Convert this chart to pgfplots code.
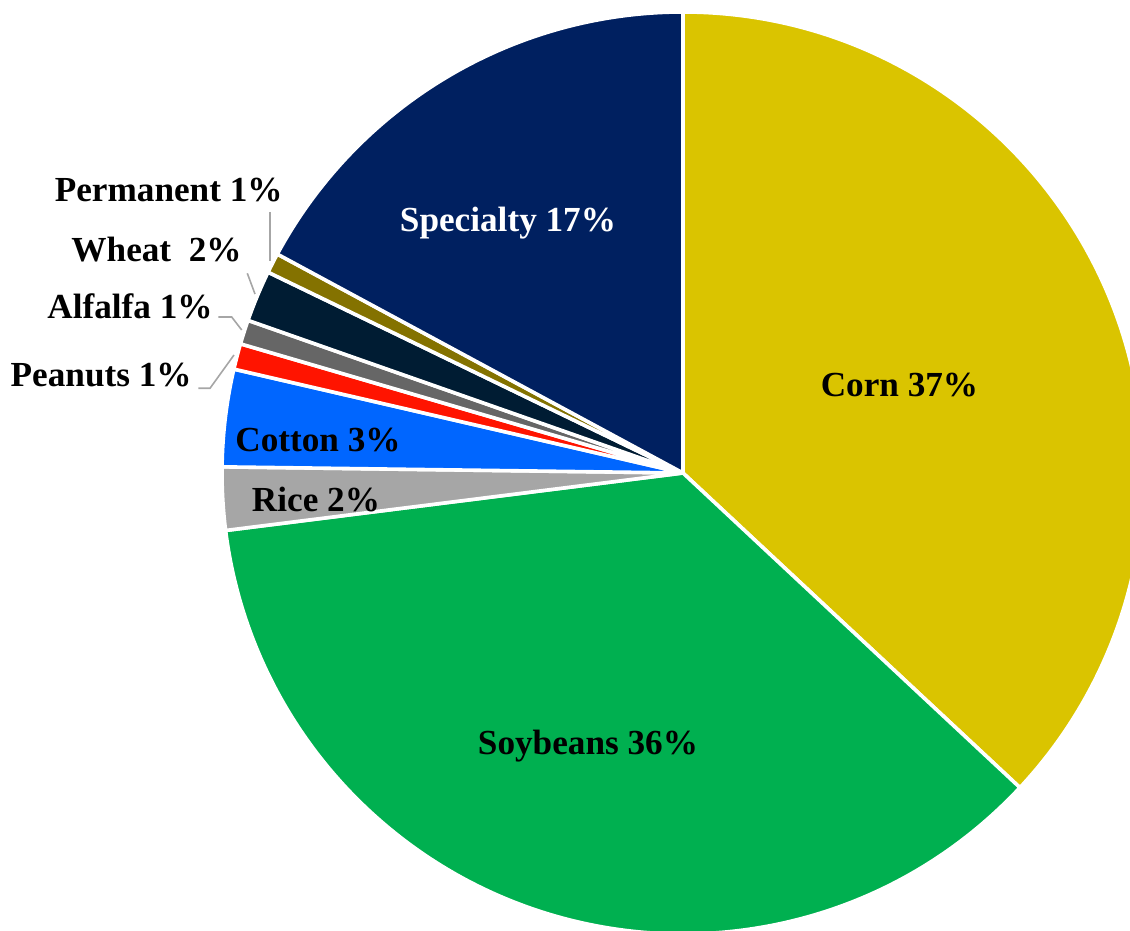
\documentclass[border=0pt]{standalone}
\usepackage{pgfplots}
\usepackage{pgfplotstable}
\pgfplotsset{compat=1.18}
\usepackage{fontspec}
\setmainfont{Liberation Serif}
\definecolor{corn}{HTML}{DAC400}
\definecolor{soy}{HTML}{00B050}
\definecolor{rice}{HTML}{A6A6A6}
\definecolor{cotton}{HTML}{0066FF}
\definecolor{peanut}{HTML}{FF1400}
\definecolor{alfalfa}{HTML}{666666}
\definecolor{wheat}{HTML}{001C33}
\definecolor{perm}{HTML}{847200}
\definecolor{spec}{HTML}{002060}
\definecolor{leader}{HTML}{A6A6A6}
\pgfplotstableread[col sep=comma]{
name,value,col
Corn,36.9,corn
Soybeans,36.0,soy
Rice,2.2,rice
Cotton,3.4,cotton
Peanuts,0.9,peanut
Alfalfa,0.85,alfalfa
Wheat,1.8,wheat
Permanent,0.7,perm
Specialty,17.1,spec
}\piedata
\begin{document}
\begin{tikzpicture}
\pgfplotstablegetrowsof{\piedata}
\pgfmathtruncatemacro\N{\pgfplotsretval-1}
\def\total{0}
\pgfplotsforeachungrouped \i in {0,...,\N}{%
  \pgfplotstablegetelem{\i}{value}\of\piedata
  \pgfmathsetmacro\total{\total+\pgfplotsretval}%
}
\begin{axis}[
  width=565pt, height=465.5pt, scale only axis,
  xmin=0, xmax=1130, ymin=0, ymax=931,
  hide axis, clip=true,
]
\def\cum{0}
\pgfplotsforeachungrouped \i in {0,...,\N}{%
  \pgfplotstablegetelem{\i}{value}\of\piedata
  \let\v\pgfplotsretval
  \pgfplotstablegetelem{\i}{col}\of\piedata
  \let\c\pgfplotsretval
  \pgfmathsetmacro\a{90-\cum/\total*360}%
  \pgfmathsetmacro\cum{\cum+\v}%
  \pgfmathsetmacro\b{90-\cum/\total*360}%
  \edef\temp{\noexpand\fill[fill=\c, draw=white, line width=1.8pt, line join=round]
    (axis cs:683,458) -- ++(\a:230.5pt) arc[start angle=\a, end angle=\b, radius=230.5pt] -- cycle;}%
  \temp
}
% leader lines
\draw[leader, line width=0.8pt] (axis cs:270,719) -- (axis cs:270,670);
\draw[leader, line width=0.8pt] (axis cs:247.3,657.7) -- (axis cs:255,637);
\draw[leader, line width=0.8pt] (axis cs:218.3,614) -- (axis cs:231.7,614) -- (axis cs:241.7,601);
\draw[leader, line width=0.8pt] (axis cs:198.3,542.7) -- (axis cs:210,542.7) -- (axis cs:234,576);
% labels
\begin{scope}[every node/.style={font=\fontsize{17.6}{20}\selectfont\bfseries, inner sep=0pt}]
\node[anchor=base] at (axis cs:899.5,534) {Corn 37\%};
\node[anchor=base, text=white] at (axis cs:508,699) {Specialty 17\%};
\node[anchor=base] at (axis cs:588,176) {Soybeans 36\%};
\node[anchor=base] at (axis cs:318,479.3) {Cotton 3\%};
\node[anchor=base] at (axis cs:316,419.3) {Rice 2\%};
\node[anchor=base east] at (axis cs:192,544.3) {Peanuts 1\%};
\node[anchor=base east] at (axis cs:213,612.7) {Alfalfa 1\%};
\node[anchor=base east] at (axis cs:242,669.3) {Wheat\ \ 2\%};
\node[anchor=base east] at (axis cs:283,729.3) {Permanent 1\%};
\end{scope}
\end{axis}
\pgfresetboundingbox
\path[use as bounding box] (0,0) rectangle (565pt,465.5pt);
\end{tikzpicture}
\end{document}
